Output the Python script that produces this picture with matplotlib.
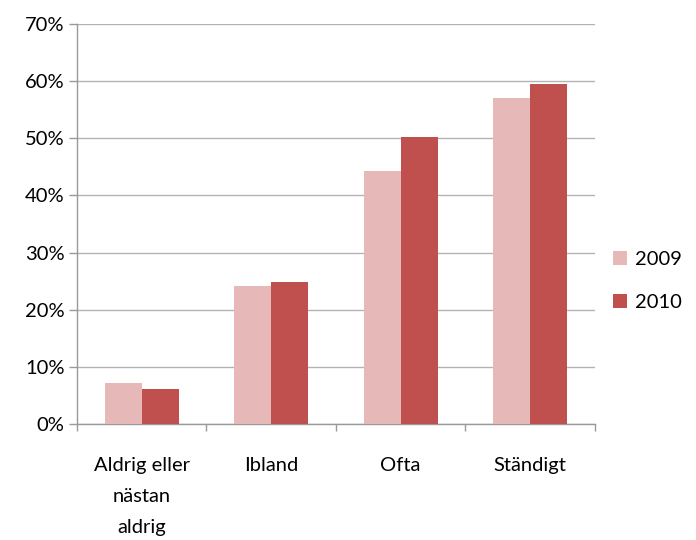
import numpy as np
import matplotlib
matplotlib.use("Agg")
import matplotlib.pyplot as plt
from matplotlib.ticker import PercentFormatter

categories = ["Aldrig eller\nnästan\naldrig", "Ibland", "Ofta", "Ständigt"]
years = ["2009", "2010"]
values_2009 = [7.2, 24.2, 44.2, 57.1]
values_2010 = [6.1, 24.9, 50.3, 59.5]
colors = ["#E6B9B8", "#C0504D"]

plt.rcParams["font.family"] = ["Lato", "DejaVu Sans"]

fig = plt.figure(figsize=(6.96, 5.4), dpi=100)
ax = fig.add_axes([0.1106, 0.2148, 0.744, 0.7408])

x = np.arange(len(categories))
w = 0.285
ax.bar(x - w / 2, values_2009, w, color=colors[0], label=years[0], zorder=3)
ax.bar(x + w / 2, values_2010, w, color=colors[1], label=years[1], zorder=3)

ax.set_ylim(0, 70)
ax.set_xlim(-0.5, len(categories) - 0.5)
ax.set_yticks(np.arange(0, 71, 10))
ax.yaxis.set_major_formatter(PercentFormatter(decimals=0))
ax.grid(axis="y", color="#b3b3b3", linewidth=1, zorder=0)

ax.set_xticks(x)
ax.set_xticklabels(categories, fontsize=14.5, linespacing=1.98)
ax.set_xticks(np.arange(-0.5, len(categories), 1), minor=True)
ax.tick_params(axis="x", which="major", length=0, pad=24)
ax.tick_params(axis="x", which="minor", length=5, color="#999999", width=1)
ax.tick_params(axis="y", length=6, color="#999999", width=1, labelsize=14.5, pad=3)

for s in ["top", "right"]:
    ax.spines[s].set_visible(False)
for s in ["left", "bottom"]:
    ax.spines[s].set_color("#999999")
    ax.spines[s].set_linewidth(1)

ax.legend(loc="center left", bbox_to_anchor=(1.0, 0.357), frameon=False,
          fontsize=14.5, handlelength=0.7, handleheight=0.7,
          labelspacing=1.3, handletextpad=0.4)

fig.savefig("out.png", dpi=100)
